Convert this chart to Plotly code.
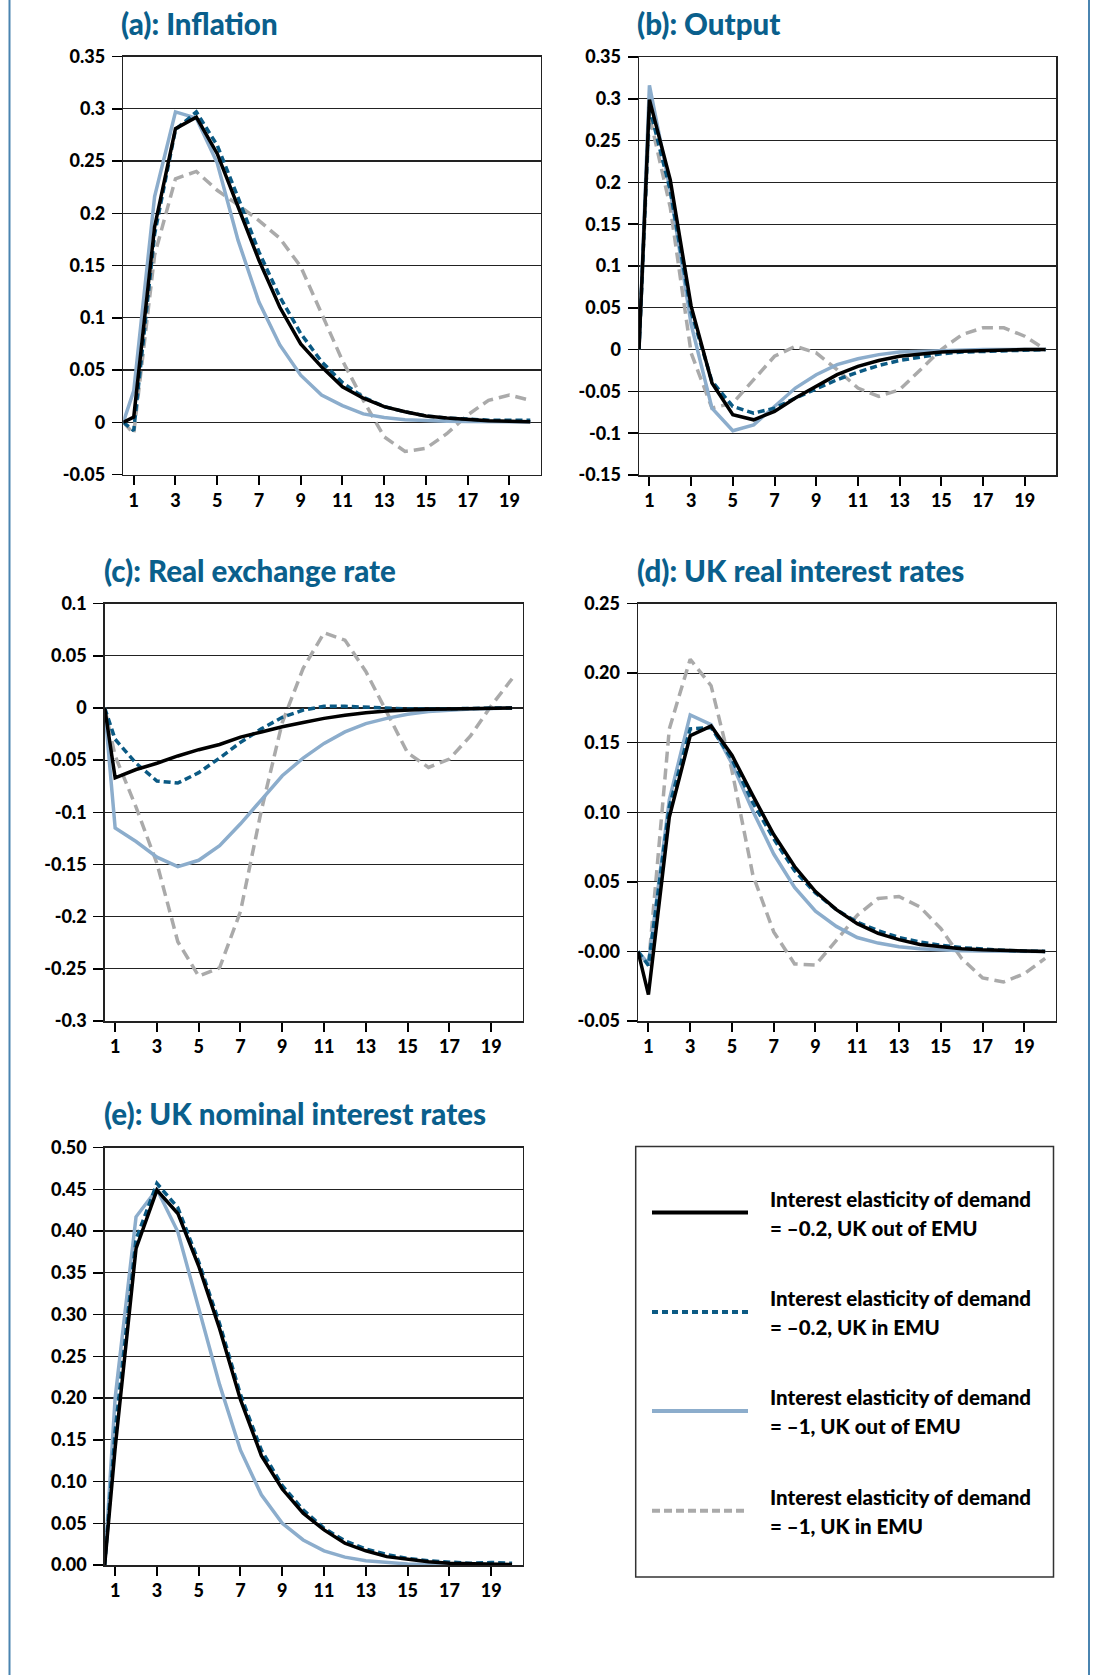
import plotly.graph_objects as go

W, H = 1093, 1675

# ---------------- data ----------------
periods = [0.5] + list(range(1, 21))
x_tick_vals = list(range(1, 20, 2))
x_tick_text = [str(v) for v in x_tick_vals]

series_names = [
    "Interest elasticity of demand = –0.2, UK out of EMU",
    "Interest elasticity of demand = –0.2, UK in EMU",
    "Interest elasticity of demand = –1, UK out of EMU",
    "Interest elasticity of demand = –1, UK in EMU",
]

# (a) Inflation
infl_out02 = [0, 0.005, 0.187, 0.281, 0.292, 0.257, 0.206, 0.155, 0.110, 0.075, 0.053, 0.034, 0.023, 0.015, 0.010, 0.006, 0.004, 0.0025, 0.0015, 0.001, 0.0005]
infl_in02 = [0, -0.008, 0.180, 0.280, 0.297, 0.265, 0.215, 0.163, 0.120, 0.085, 0.058, 0.038, 0.024, 0.015, 0.010, 0.006, 0.004, 0.003, 0.002, 0.002, 0.002]
infl_out1 = [0, 0.030, 0.216, 0.297, 0.291, 0.248, 0.174, 0.115, 0.074, 0.045, 0.026, 0.016, 0.008, 0.0045, 0.0025, 0.0015, 0.001, 0.0007, 0.0005, 0.0003, 0.0002]
infl_in1 = [0, -0.011, 0.160, 0.233, 0.240, 0.222, 0.208, 0.193, 0.176, 0.149, 0.104, 0.059, 0.021, -0.014, -0.028, -0.025, -0.011, 0.007, 0.021, 0.026, 0.021]

# (b) Output
out_out02 = [0, 0.299, 0.203, 0.052, -0.040, -0.078, -0.084, -0.074, -0.058, -0.044, -0.030, -0.020, -0.013, -0.008, -0.005, -0.003, -0.002, -0.001, -0.0005, 0, 0]
out_in02 = [0, 0.290, 0.190, 0.045, -0.038, -0.068, -0.076, -0.070, -0.058, -0.047, -0.036, -0.027, -0.019, -0.013, -0.009, -0.005, -0.003, -0.002, -0.001, 0, 0]
out_out1 = [0, 0.316, 0.190, 0.030, -0.070, -0.097, -0.090, -0.068, -0.046, -0.030, -0.018, -0.011, -0.006, -0.003, -0.002, -0.001, 0, 0, 0, 0, 0]
out_in1 = [0, 0.280, 0.170, -0.004, -0.070, -0.064, -0.036, -0.008, 0.004, -0.004, -0.024, -0.046, -0.056, -0.048, -0.024, 0.0, 0.018, 0.026, 0.026, 0.016, 0.0]

# (c) Real exchange rate
rer_out02 = [0, -0.067, -0.059, -0.053, -0.046, -0.040, -0.035, -0.028, -0.023, -0.018, -0.014, -0.010, -0.007, -0.0045, -0.003, -0.002, -0.0013, -0.001, -0.0006, -0.0003, 0]
rer_in02 = [0, -0.030, -0.053, -0.070, -0.072, -0.062, -0.048, -0.033, -0.020, -0.009, -0.002, 0.0016, 0.0016, 0.0006, 0, -0.001, -0.001, -0.001, -0.0005, 0, 0]
rer_out1 = [0, -0.115, -0.128, -0.143, -0.152, -0.146, -0.132, -0.111, -0.088, -0.065, -0.048, -0.034, -0.023, -0.015, -0.010, -0.006, -0.0035, -0.002, -0.001, -0.0005, 0]
rer_in1 = [0, -0.046, -0.095, -0.149, -0.224, -0.257, -0.249, -0.195, -0.098, -0.014, 0.038, 0.072, 0.065, 0.035, -0.004, -0.043, -0.057, -0.049, -0.027, 0.002, 0.028]

# (d) UK real interest rates
rr_out02 = [0, -0.031, 0.0965, 0.155, 0.162, 0.141, 0.112, 0.084, 0.061, 0.043, 0.030, 0.020, 0.013, 0.0085, 0.005, 0.0034, 0.002, 0.0012, 0.0007, 0.0003, 0]
rr_in02 = [0, -0.010, 0.104, 0.160, 0.161, 0.138, 0.107, 0.081, 0.058, 0.042, 0.030, 0.021, 0.015, 0.010, 0.0068, 0.0044, 0.0027, 0.0015, 0.0008, 0.0003, 0]
rr_out1 = [0, -0.009, 0.109, 0.170, 0.163, 0.135, 0.101, 0.070, 0.046, 0.029, 0.018, 0.010, 0.006, 0.0034, 0.002, 0.001, 0.0005, 0.0003, 0.0001, 0, 0]
rr_in1 = [0, -0.010, 0.160, 0.210, 0.191, 0.130, 0.055, 0.014, -0.009, -0.0097, 0.008, 0.026, 0.038, 0.0395, 0.032, 0.0165, -0.005, -0.019, -0.022, -0.016, -0.005]

# (e) UK nominal interest rates
nr_out02 = [0, 0.140, 0.379, 0.449, 0.421, 0.358, 0.283, 0.198, 0.131, 0.091, 0.062, 0.042, 0.026, 0.017, 0.010, 0.0067, 0.004, 0.0022, 0.0013, 0.0008, 0.0005]
nr_in02 = [0, 0.160, 0.390, 0.457, 0.428, 0.363, 0.289, 0.204, 0.1375, 0.095, 0.066, 0.044, 0.029, 0.019, 0.0125, 0.008, 0.005, 0.003, 0.002, 0.003, 0.002]
nr_out1 = [0, 0.200, 0.417, 0.450, 0.399, 0.309, 0.216, 0.1375, 0.084, 0.050, 0.030, 0.017, 0.0094, 0.005, 0.0027, 0.0013, 0.0007, 0.0004, 0.0002, 0.0001, 0]

panel_titles = ["(a): Inflation", "(b): Output", "(c): Real exchange rate",
                "(d): UK real interest rates", "(e): UK nominal interest rates"]

y_ticks_a = [0.35, 0.3, 0.25, 0.2, 0.15, 0.1, 0.05, 0, -0.05]
y_text_a = ["0.35", "0.3", "0.25", "0.2", "0.15", "0.1", "0.05", "0", "-0.05"]
y_ticks_b = [0.35, 0.3, 0.25, 0.2, 0.15, 0.1, 0.05, 0, -0.05, -0.1, -0.15]
y_text_b = ["0.35", "0.3", "0.25", "0.2", "0.15", "0.1", "0.05", "0", "-0.05", "-0.1", "-0.15"]
y_ticks_c = [0.1, 0.05, 0, -0.05, -0.1, -0.15, -0.2, -0.25, -0.3]
y_text_c = ["0.1", "0.05", "0", "-0.05", "-0.1", "-0.15", "-0.2", "-0.25", "-0.3"]
y_ticks_d = [0.25, 0.2, 0.15, 0.1, 0.05, 0, -0.05]
y_text_d = ["0.25", "0.20", "0.15", "0.10", "0.05", "-0.00", "-0.05"]
y_ticks_e = [0.5, 0.45, 0.4, 0.35, 0.3, 0.25, 0.2, 0.15, 0.1, 0.05, 0]
y_text_e = ["0.50", "0.45", "0.40", "0.35", "0.30", "0.25", "0.20", "0.15", "0.10", "0.05", "0.00"]

# ---------------- styles ----------------
FONT = "Lato, 'Open Sans', sans-serif"
WEIGHT = 900
TITLE_COLOR = "#0a5f8c"
styles = [
    dict(color="#000000", width=3.5, dash="solid"),
    dict(color="#0b5a84", width=3.5, dash="7px,4px"),
    dict(color="#8cadcc", width=3.5, dash="solid"),
    dict(color="#aaaaaa", width=3.5, dash="11px,6px"),
]
draw_order = [3, 2, 1, 0]


def px_x(v):
    return v / W


def px_y(v):
    return 1 - v / H


panels = [
    dict(data=[infl_out02, infl_in02, infl_out1, infl_in1], yr=[-0.05, 0.35], tv=y_ticks_a, tt=y_text_a,
         box=(123.3, 540.7, 56.5, 474.5), title_xy=(118.6, 23.5)),
    dict(data=[out_out02, out_in02, out_out1, out_in1], yr=[-0.15, 0.35], tv=y_ticks_b, tt=y_text_b,
         box=(639.0, 1056.0, 57.0, 475.0), title_xy=(634.6, 23.5)),
    dict(data=[rer_out02, rer_in02, rer_out1, rer_in1], yr=[-0.3, 0.1], tv=y_ticks_c, tt=y_text_c,
         box=(104.7, 522.5, 603.6, 1021.0), title_xy=(101.5, 570.5)),
    dict(data=[rr_out02, rr_in02, rr_out1, rr_in1], yr=[-0.05, 0.25], tv=y_ticks_d, tt=y_text_d,
         box=(638.0, 1055.6, 603.6, 1021.0), title_xy=(634.6, 570.5)),
    dict(data=[nr_out02, nr_in02, nr_out1, None], yr=[0, 0.5], tv=y_ticks_e, tt=y_text_e,
         box=(104.7, 522.5, 1147.5, 1565.0), title_xy=(101.5, 1113.0)),
]

fig = go.Figure()
layout = dict(
    width=W, height=H, autosize=False,
    margin=dict(l=0, r=0, t=0, b=0, pad=0, autoexpand=False),
    paper_bgcolor="white", plot_bgcolor="white",
    showlegend=False,
    font=dict(family=FONT, color="black"),
)
annotations = []
shapes = []

for i, p in enumerate(panels):
    n = "" if i == 0 else str(i + 1)
    xa, ya = "x" + n, "y" + n
    x0, x1, y0, y1 = p["box"]
    for k in draw_order:
        ys = p["data"][k]
        if ys is None:
            continue
        st = styles[k]
        fig.add_trace(go.Scatter(
            x=periods, y=ys, mode="lines", name=series_names[k],
            line=dict(color=st["color"], width=st["width"], dash=st["dash"]),
            xaxis=xa, yaxis=ya, hoverinfo="skip"))
    layout["xaxis" + n] = dict(
        domain=[px_x(x0), px_x(x1)], anchor=ya, range=[0.5, 20.5], automargin=False,
        tickmode="array", tickvals=x_tick_vals, ticktext=x_tick_text,
        ticks="outside", ticklen=9, tickwidth=2, tickcolor="black",
        showgrid=False, zeroline=False, showline=True, linecolor="#222", linewidth=1.5, mirror=True,
        tickfont=dict(family=FONT, size=18, color="black", weight=WEIGHT),
    )
    layout["yaxis" + n] = dict(
        domain=[px_y(y1), px_y(y0)], anchor=xa, range=p["yr"], automargin=False,
        tickmode="array", tickvals=p["tv"], ticktext=p["tt"],
        ticks="outside", ticklen=10, tickwidth=1.5, tickcolor="black",
        showgrid=True, gridcolor="#222", gridwidth=1.2, zeroline=False,
        showline=True, linecolor="#222", linewidth=1.5, mirror=True,
        tickfont=dict(family=FONT, size=18, color="black", weight=WEIGHT),
        ticklabelstandoff=3,
    )
    tx, ty = p["title_xy"]
    annotations.append(dict(
        text=panel_titles[i], xref="paper", yref="paper", x=px_x(tx), y=px_y(ty),
        xanchor="left", yanchor="middle", showarrow=False,
        font=dict(family=FONT, size=29.5, color=TITLE_COLOR, weight=WEIGHT)))

# legend box (drawn manually)
lg_x0, lg_x1, lg_y0, lg_y1 = 635.7, 1053.5, 1146.5, 1577.0
shapes.append(dict(type="rect", xref="paper", yref="paper",
                   x0=px_x(lg_x0), x1=px_x(lg_x1), y0=px_y(lg_y1), y1=px_y(lg_y0),
                   line=dict(color="#333", width=1.5), fillcolor="rgba(0,0,0,0)"))
legend_rows = [1212.6, 1312.0, 1411.0, 1510.7]
legend_lines = [
    ("Interest elasticity of demand", "= –0.2, UK out of EMU"),
    ("Interest elasticity of demand", "= –0.2, UK in EMU"),
    ("Interest elasticity of demand", "= –1, UK out of EMU"),
    ("Interest elasticity of demand", "= –1, UK in EMU"),
]
for k, ry in enumerate(legend_rows):
    st = styles[k]
    shapes.append(dict(type="line", xref="paper", yref="paper",
                       x0=px_x(652), x1=px_x(748), y0=px_y(ry), y1=px_y(ry),
                       line=dict(color=st["color"], width=4,
                                 dash=("solid" if st["dash"] == "solid" else ("6px,4px" if k == 1 else "8px,4px")))))
    l1, l2 = legend_lines[k]
    annotations.append(dict(text=l1, xref="paper", yref="paper", x=px_x(768), y=px_y(ry - 14),
                            xanchor="left", yanchor="middle", showarrow=False,
                            font=dict(family=FONT, size=20.5, color="black", weight=WEIGHT)))
    annotations.append(dict(text=l2, xref="paper", yref="paper", x=px_x(768), y=px_y(ry + 15),
                            xanchor="left", yanchor="middle", showarrow=False,
                            font=dict(family=FONT, size=20.5, color="black", weight=WEIGHT)))

# page frame lines
for fx in (9.5, 1089.0):
    shapes.append(dict(type="line", xref="paper", yref="paper",
                       x0=px_x(fx), x1=px_x(fx), y0=0, y1=1,
                       line=dict(color="#4a84b0", width=2)))

layout["annotations"] = annotations
layout["shapes"] = shapes
fig.update_layout(**layout)
fig.write_html("out.html", config={"displayModeBar": False, "staticPlot": True},
               post_script="document.body.style.margin='0';document.body.style.padding='0';document.body.style.overflow='hidden';")
